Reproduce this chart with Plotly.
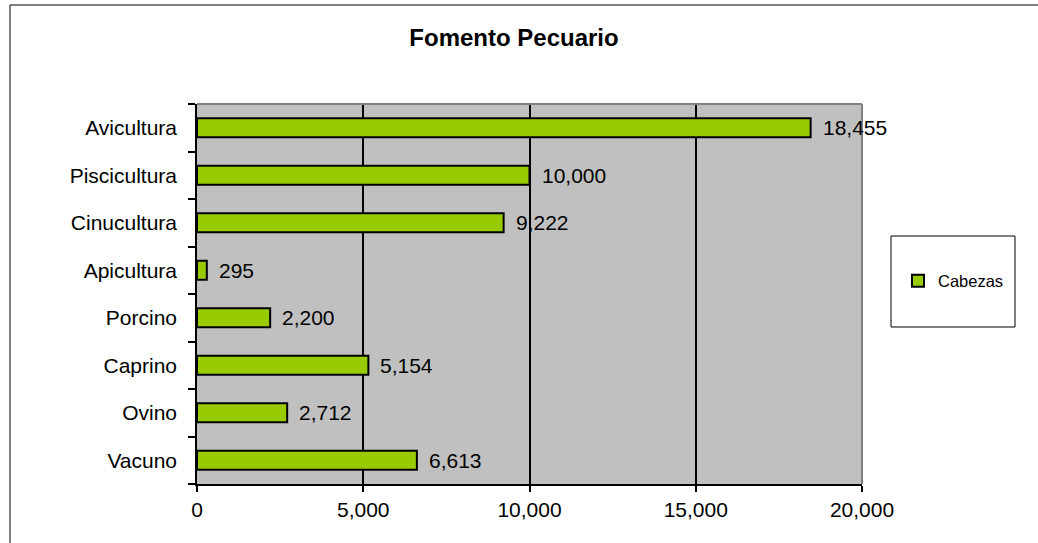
import plotly.graph_objects as go

categories = ["Vacuno", "Ovino", "Caprino", "Porcino", "Apicultura", "Cinucultura", "Piscicultura", "Avicultura"]
values = [6613, 2712, 5154, 2200, 295, 9222, 10000, 18455]
x_ticks = [0, 5000, 10000, 15000, 20000]
x_tick_labels = ["0", "5,000", "10,000", "15,000", "20,000"]
series_name = "Cabezas"
title_text = "Fomento Pecuario"

FONT = "Liberation Sans, Arial, sans-serif"
W, H = 1038, 543
L, R, T, B = 197, 862, 104, 484

fig = go.Figure()
fig.add_trace(go.Bar(
    y=categories, x=values, orientation="h", name=series_name,
    marker=dict(color="#99CC00", line=dict(color="#000000", width=2)),
    width=0.4, showlegend=True,
))

for c, v in zip(categories, values):
    fig.add_annotation(x=v, y=c, xref="x", yref="y", text=f"{v:,}", showarrow=False,
                       xanchor="left", yanchor="middle", xshift=10,
                       font=dict(family=FONT, size=21, color="#000000"))

def px(xp):
    return (xp - L) / (R - L)

def py(yp):
    return (B - yp) / (B - T)

shapes = [
    # outer chart border
    dict(type="line", xref="paper", yref="paper", x0=px(10), x1=px(1050), y0=py(5), y1=py(5),
         line=dict(color="#808080", width=2)),
    dict(type="line", xref="paper", yref="paper", x0=px(10), x1=px(10), y0=py(5), y1=py(560),
         line=dict(color="#000000", width=1)),
    # plot area border top & right
    dict(type="line", xref="paper", yref="paper", x0=0, x1=1, y0=1, y1=1,
         line=dict(color="#808080", width=2), layer="above"),
    dict(type="line", xref="paper", yref="paper", x0=1, x1=1, y0=0, y1=1,
         line=dict(color="#808080", width=2), layer="above"),
    # legend box
    dict(type="rect", xref="paper", yref="paper", x0=px(891), x1=px(1015), y0=py(327), y1=py(236),
         line=dict(color="#000000", width=1), fillcolor="#FFFFFF", layer="below"),
]

fig.update_layout(
    width=W, height=H,
    margin=dict(l=L, r=W - R, t=T, b=H - B, pad=0),
    paper_bgcolor="#FFFFFF", plot_bgcolor="#C0C0C0",
    font=dict(family=FONT, size=21, color="#000000"),
    title=dict(text="<b>" + title_text + "</b>", x=514 / W, xanchor="center",
               y=1 - 38 / H, yanchor="middle", yref="container",
               font=dict(family=FONT, size=24, color="#000000")),
    xaxis=dict(range=[0, 20000], tickvals=x_ticks, ticktext=x_tick_labels,
               showgrid=True, gridcolor="#000000", gridwidth=1.5,
               showline=True, linecolor="#000000", linewidth=1.5,
               ticks="outside", ticklen=6, tickcolor="#000000", tickwidth=1.5,
               zeroline=False, tickfont=dict(family=FONT, size=21), fixedrange=True),
    yaxis=dict(categoryorder="array", categoryarray=categories,
               showgrid=False, showline=True, linecolor="#000000", linewidth=1.5,
               ticks="outside", ticklen=7, tickcolor="#000000", tickwidth=1.5,
               tickson="boundaries", ticklabelstandoff=14,
               tickfont=dict(family=FONT, size=21), fixedrange=True),
    legend=dict(x=px(898), xanchor="left", y=py(281), yanchor="middle",
                bgcolor="rgba(0,0,0,0)", borderwidth=0,
                font=dict(family=FONT, size=16.5, color="#000000")),
    shapes=shapes,
    bargap=0.58,
)

fig.write_html("out.html", config={"displayModeBar": False},
               post_script="document.body.style.margin='0px';document.body.style.overflow='hidden';")
